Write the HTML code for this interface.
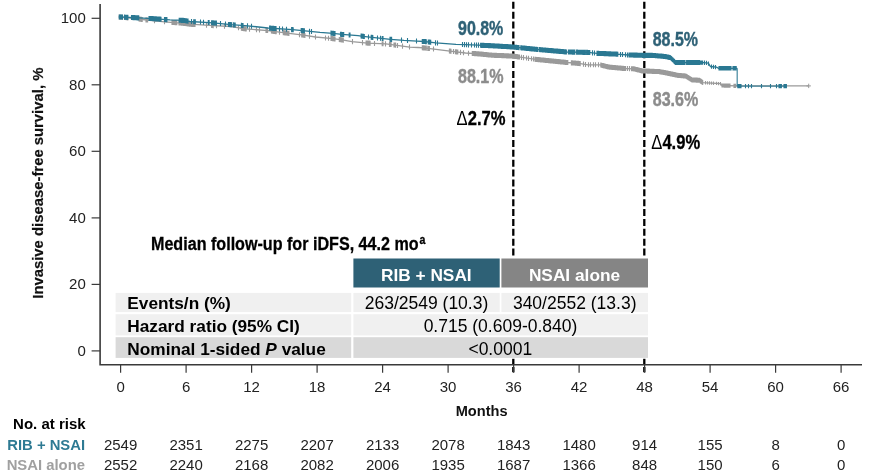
<!DOCTYPE html>
<html lang="en"><head><meta charset="utf-8"><title>Invasive disease-free survival</title>
<style>
html,body{margin:0;padding:0;background:#fff;}
body{width:872px;height:474px;overflow:hidden;font-family:"Liberation Sans",sans-serif;}
svg{display:block;}
</style></head><body>
<svg width="872" height="474" viewBox="0 0 872 474" font-family="'Liberation Sans', sans-serif">
<rect width="872" height="474" fill="#fff"/>
<line x1="513.3" y1="1.8" x2="513.3" y2="372.3" stroke="#000" stroke-width="2.3" stroke-dasharray="7 2.87"/>
<line x1="644.3" y1="1.8" x2="644.3" y2="372.3" stroke="#000" stroke-width="2.3" stroke-dasharray="7 2.87"/>
<path d="M118.8,17.0 L130.0,18.0 L142.5,19.5 L164.5,21.8 L183.8,23.3 L190.0,24.2 L213.0,25.6 L231.0,26.5 L245.0,28.8 L268.0,30.6 L285.0,32.9 L303.5,35.2 L315.5,37.0 L333.0,38.7 L342.0,39.9 L352.0,41.6 L367.5,43.1 L386.0,43.9 L402.4,46.1 L409.7,47.1 L418.0,47.5 L424.0,47.9 L436.0,49.3 L450.0,51.1 L465.5,53.0 L479.0,53.9 L492.0,55.2 L513.0,56.1 L536.0,59.4 L567.0,62.5 L578.8,63.4 L588.0,64.8 L600.0,64.8 L609.0,67.1 L624.6,68.5 L633.8,68.8 L642.0,70.9 L659.0,71.6 L665.3,72.7 L678.0,75.4 L685.6,76.0 L691.9,79.9 L699.5,80.3 L703.0,82.6 L720.6,83.7 L722.0,85.5 L737.0,85.9 L808.7,85.9" fill="none" stroke="#9a9a9a" stroke-width="1.35"/>
<path d="M119.3,14.5v5.1M120.1,14.6v5.1M120.9,14.6v5.1M121.7,14.7v5.1M122.5,14.8v5.1M124.6,15.0v5.1M125.4,15.0v5.1M126.2,15.1v5.1M127.0,15.2v5.1M127.8,15.3v5.1M139.0,16.5v5.1M139.8,16.6v5.1M140.6,16.7v5.1M141.4,16.8v5.1M142.2,16.9v5.1M146.0,17.3v5.1M146.8,17.4v5.1M147.6,17.5v5.1M154.5,18.2v5.1M164.5,19.2v5.1M172.0,19.8v5.1M172.8,19.9v5.1M173.6,20.0v5.1M174.4,20.0v5.1M175.2,20.1v5.1M176.0,20.1v5.1M176.8,20.2v5.1M179.0,20.4v5.1M179.8,20.4v5.1M180.6,20.5v5.1M181.4,20.6v5.1M182.2,20.6v5.1M183.0,20.7v5.1M183.8,20.8v5.1M184.6,20.9v5.1M185.4,21.0v5.1M186.2,21.1v5.1M187.0,21.2v5.1M187.8,21.3v5.1M188.6,21.4v5.1M189.4,21.6v5.1M190.2,21.7v5.1M191.0,21.7v5.1M191.8,21.8v5.1M192.6,21.8v5.1M193.4,21.9v5.1M194.2,21.9v5.1M195.0,22.0v5.1M192.5,21.8v5.1M206.5,22.7v5.1M211.6,23.0v5.1M212.4,23.0v5.1M213.2,23.1v5.1M216.5,23.2v5.1M224.5,23.6v5.1M238.5,25.2v5.1M241.4,25.7v5.1M242.2,25.8v5.1M243.0,25.9v5.1M243.8,26.1v5.1M244.6,26.2v5.1M245.4,26.3v5.1M246.2,26.3v5.1M249.5,26.6v5.1M256.5,27.2v5.1M259.5,27.4v5.1M267.5,28.0v5.1M266.0,27.9v5.1M266.8,28.0v5.1M267.6,28.0v5.1M271.4,28.5v5.1M272.2,28.6v5.1M273.0,28.7v5.1M273.8,28.8v5.1M274.6,28.9v5.1M275.4,29.1v5.1M276.2,29.2v5.1M279.5,29.6v5.1M283.3,30.1v5.1M284.1,30.2v5.1M284.9,30.3v5.1M285.7,30.4v5.1M286.5,30.5v5.1M287.3,30.6v5.1M288.1,30.7v5.1M288.9,30.8v5.1M299.5,32.2v5.1M301.7,32.4v5.1M302.5,32.5v5.1M303.3,32.6v5.1M304.1,32.7v5.1M304.9,32.9v5.1M309.5,33.6v5.1M315.5,34.5v5.1M325.5,35.4v5.1M328.5,35.7v5.1M331.0,36.0v5.1M331.8,36.0v5.1M332.6,36.1v5.1M333.4,36.2v5.1M334.2,36.3v5.1M335.0,36.4v5.1M339.3,37.0v5.1M340.1,37.1v5.1M340.9,37.2v5.1M341.7,37.3v5.1M342.5,37.4v5.1M343.3,37.6v5.1M352.5,39.1v5.1M362.5,40.1v5.1M366.1,40.4v5.1M366.9,40.5v5.1M367.7,40.6v5.1M368.5,40.6v5.1M369.3,40.6v5.1M370.1,40.7v5.1M374.5,40.9v5.1M382.2,41.2v5.1M383.0,41.2v5.1M385.5,41.3v5.1M389.5,41.8v5.1M390.3,41.9v5.1M391.1,42.0v5.1M394.0,42.4v5.1M394.8,42.5v5.1M395.6,42.6v5.1M397.5,42.9v5.1M402.5,43.6v5.1M409.5,44.5v5.1M422.3,45.2v5.1M423.1,45.3v5.1M423.9,45.3v5.1M424.7,45.4v5.1M425.5,45.5v5.1M426.3,45.6v5.1M427.8,45.8v5.1M428.6,45.9v5.1M429.4,46.0v5.1M433.5,46.5v5.1M449.4,48.5v5.1M450.2,48.6v5.1M451.0,48.7v5.1M453.5,49.0v5.1M455.4,49.2v5.1M456.2,49.3v5.1M457.0,49.4v5.1M457.8,49.5v5.1M460.5,49.8v5.1M463.5,50.2v5.1M468.5,50.7v5.1M472.3,50.9v5.1M473.1,51.0v5.1M473.9,51.0v5.1M474.7,51.1v5.1M475.5,51.1v5.1M476.3,51.2v5.1M477.1,51.2v5.1M477.9,51.3v5.1M478.7,51.3v5.1M479.5,51.4v5.1M480.3,51.5v5.1M481.1,51.6v5.1M481.9,51.6v5.1M482.7,51.7v5.1M483.5,51.8v5.1M484.3,51.9v5.1M485.1,52.0v5.1M485.9,52.0v5.1M486.7,52.1v5.1M487.5,52.2v5.1M488.3,52.3v5.1M489.1,52.4v5.1M489.9,52.4v5.1M490.7,52.5v5.1M491.5,52.6v5.1M492.3,52.7v5.1M493.1,52.7v5.1M493.9,52.7v5.1M494.7,52.8v5.1M495.5,52.8v5.1M496.3,52.8v5.1M497.1,52.9v5.1M497.9,52.9v5.1M498.7,52.9v5.1M499.5,53.0v5.1M500.3,53.0v5.1M501.1,53.0v5.1M501.9,53.1v5.1M502.7,53.1v5.1M503.5,53.1v5.1M504.3,53.2v5.1M505.1,53.2v5.1M505.9,53.2v5.1M506.7,53.3v5.1M507.5,53.3v5.1M508.3,53.3v5.1M509.1,53.4v5.1M509.9,53.4v5.1M510.7,53.5v5.1M511.5,53.5v5.1M512.3,53.5v5.1M513.1,53.6v5.1M513.9,53.7v5.1M514.7,53.8v5.1M515.5,53.9v5.1M516.3,54.0v5.1M517.1,54.1v5.1M517.9,54.3v5.1M518.7,54.4v5.1M519.5,54.5v5.1M521.5,54.8v5.1M523.5,55.1v5.1M526.5,55.5v5.1M528.5,55.8v5.1M531.5,56.2v5.1M533.5,56.5v5.1M535.0,56.7v5.1M535.8,56.8v5.1M536.6,56.9v5.1M537.4,57.0v5.1M538.2,57.1v5.1M539.0,57.1v5.1M539.8,57.2v5.1M540.6,57.3v5.1M541.4,57.4v5.1M542.2,57.5v5.1M543.0,57.5v5.1M543.8,57.6v5.1M544.6,57.7v5.1M545.4,57.8v5.1M546.2,57.9v5.1M547.0,57.9v5.1M547.8,58.0v5.1M548.6,58.1v5.1M549.4,58.2v5.1M550.2,58.3v5.1M551.0,58.3v5.1M551.8,58.4v5.1M552.6,58.5v5.1M553.4,58.6v5.1M554.2,58.7v5.1M555.0,58.7v5.1M555.8,58.8v5.1M556.6,58.9v5.1M557.4,59.0v5.1M558.2,59.1v5.1M559.0,59.1v5.1M559.8,59.2v5.1M560.6,59.3v5.1M561.4,59.4v5.1M562.2,59.5v5.1M563.0,59.5v5.1M563.8,59.6v5.1M564.6,59.7v5.1M565.4,59.8v5.1M566.2,59.9v5.1M567.0,59.9v5.1M567.8,60.0v5.1M571.4,60.3v5.1M572.2,60.3v5.1M573.0,60.4v5.1M573.8,60.5v5.1M574.6,60.5v5.1M575.4,60.6v5.1M576.2,60.7v5.1M577.0,60.7v5.1M577.8,60.8v5.1M578.6,60.8v5.1M579.4,60.9v5.1M580.2,61.1v5.1M583.5,61.6v5.1M585.5,61.9v5.1M588.5,62.2v5.1M590.5,62.2v5.1M593.5,62.2v5.1M595.5,62.2v5.1M598.5,62.2v5.1M600.8,62.5v5.1M601.6,62.7v5.1M602.4,62.9v5.1M603.2,63.1v5.1M604.0,63.3v5.1M604.8,63.5v5.1M605.6,63.7v5.1M606.4,63.9v5.1M607.2,64.1v5.1M608.0,64.3v5.1M608.8,64.5v5.1M609.6,64.6v5.1M610.4,64.7v5.1M611.2,64.7v5.1M612.0,64.8v5.1M612.8,64.9v5.1M613.6,65.0v5.1M614.4,65.0v5.1M615.2,65.1v5.1M616.0,65.2v5.1M616.8,65.2v5.1M617.6,65.3v5.1M618.4,65.4v5.1M619.2,65.5v5.1M620.0,65.5v5.1M620.8,65.6v5.1M621.6,65.7v5.1M622.4,65.8v5.1M623.2,65.8v5.1M624.0,65.9v5.1M624.8,66.0v5.1M625.6,66.0v5.1M627.5,66.0v5.1M629.5,66.1v5.1M631.5,66.2v5.1M632.3,66.2v5.1M633.1,66.2v5.1M633.9,66.3v5.1M634.7,66.5v5.1M635.5,66.7v5.1M636.3,66.9v5.1M637.1,67.1v5.1M637.9,67.3v5.1M638.7,67.5v5.1M639.5,67.7v5.1M640.3,67.9v5.1M641.1,68.1v5.1M641.9,68.3v5.1M642.7,68.4v5.1M643.5,68.4v5.1M644.3,68.4v5.1M645.1,68.5v5.1M645.9,68.5v5.1M646.7,68.5v5.1M647.5,68.6v5.1M648.3,68.6v5.1M649.1,68.6v5.1M649.9,68.7v5.1M650.7,68.7v5.1M651.5,68.7v5.1M652.3,68.8v5.1M653.1,68.8v5.1M653.9,68.8v5.1M654.7,68.9v5.1M655.5,68.9v5.1M656.3,68.9v5.1M657.1,69.0v5.1M657.9,69.0v5.1M658.7,69.0v5.1M659.5,69.1v5.1M660.3,69.3v5.1M661.1,69.4v5.1M661.9,69.6v5.1M662.7,69.7v5.1M663.5,69.8v5.1M664.3,70.0v5.1M665.1,70.1v5.1M665.9,70.3v5.1M666.7,70.4v5.1M667.5,70.6v5.1M668.3,70.8v5.1M669.1,71.0v5.1M669.9,71.1v5.1M670.7,71.3v5.1M671.5,71.5v5.1M672.3,71.6v5.1M673.1,71.8v5.1M673.9,72.0v5.1M674.7,72.1v5.1M675.5,72.3v5.1M676.3,72.5v5.1M677.1,72.7v5.1M677.9,72.8v5.1M678.7,72.9v5.1M679.5,73.0v5.1M680.3,73.0v5.1M681.1,73.1v5.1M681.9,73.2v5.1M682.7,73.2v5.1M683.5,73.3v5.1M684.3,73.3v5.1M685.1,73.4v5.1M685.9,73.6v5.1M686.7,74.1v5.1M687.5,74.6v5.1M688.3,75.1v5.1M689.1,75.6v5.1M689.9,76.1v5.1M690.7,76.6v5.1M691.5,77.1v5.1M692.3,77.4v5.1M693.1,77.4v5.1M693.9,77.5v5.1M694.7,77.5v5.1M695.5,77.5v5.1M696.3,77.6v5.1M697.1,77.6v5.1M697.9,77.7v5.1M698.7,77.7v5.1M699.5,77.7v5.1M700.3,78.3v5.1M701.1,78.8v5.1M701.9,79.3v5.1M702.7,79.9v5.1M705.5,81.1v3.4M707.5,81.2v3.4M709.5,81.3v3.4M711.5,81.4v3.4M713.5,81.6v3.4M716.5,81.7v3.4M718.5,81.9v3.4M720.5,82.0v3.4M722.0,83.4v4.2M722.8,83.4v4.2M723.6,83.4v4.2M724.4,83.5v4.2M725.2,83.5v4.2M726.0,83.5v4.2M726.8,83.5v4.2M727.6,83.5v4.2M728.4,83.6v4.2M729.2,83.6v4.2M730.0,83.6v4.2M734.0,83.7v4.2M734.8,83.7v4.2M735.6,83.8v4.2" fill="none" stroke="#9a9a9a" stroke-width="1.1"/>
<path d="M808.7,83.7v4.4M806.5,85.9h4.4" fill="none" stroke="#9a9a9a" stroke-width="1"/>
<path d="M118.8,16.9 L135.0,17.7 L151.7,18.6 L170.0,19.9 L183.8,20.4 L190.0,21.5 L213.0,22.8 L231.0,24.7 L245.0,25.6 L268.0,28.0 L292.5,29.7 L302.6,30.6 L320.0,32.4 L333.0,33.3 L342.0,34.4 L358.0,35.6 L363.0,36.3 L376.7,37.9 L390.5,39.3 L404.0,40.4 L417.0,41.1 L424.0,41.5 L436.0,42.9 L456.0,44.3 L465.5,44.7 L484.0,45.4 L493.0,45.8 L513.0,47.0 L536.0,49.3 L567.0,52.0 L588.0,52.4 L597.0,53.3 L615.5,54.1 L629.0,55.0 L642.0,55.3 L652.7,55.4 L665.3,56.5 L670.5,57.7 L675.5,62.5 L703.3,62.6 L708.3,63.2 L710.5,66.5 L716.5,67.2 L718.6,68.3 L737.2,68.3" fill="none" stroke="#2a7892" stroke-width="1.35"/>
<path d="M737.2,68.3 L737.2,86.1 L786.6,86.1" fill="none" stroke="#2a7892" stroke-width="1.25" stroke-opacity="0.85"/>
<path d="M119.3,14.4v5.1M120.1,14.4v5.1M120.9,14.5v5.1M121.7,14.5v5.1M122.5,14.5v5.1M124.6,14.6v5.1M125.4,14.7v5.1M126.2,14.7v5.1M127.0,14.8v5.1M127.8,14.8v5.1M131.5,15.0v5.1M132.3,15.0v5.1M133.1,15.1v5.1M133.9,15.1v5.1M134.7,15.1v5.1M135.5,15.2v5.1M136.3,15.2v5.1M137.1,15.3v5.1M137.9,15.3v5.1M138.7,15.3v5.1M149.0,15.9v5.1M149.8,15.9v5.1M150.6,15.9v5.1M151.4,16.0v5.1M152.2,16.0v5.1M153.0,16.1v5.1M153.8,16.2v5.1M154.6,16.2v5.1M155.4,16.3v5.1M156.2,16.3v5.1M157.0,16.4v5.1M157.8,16.5v5.1M158.6,16.5v5.1M159.4,16.6v5.1M160.2,16.6v5.1M161.0,16.7v5.1M164.5,16.9v5.1M165.3,17.0v5.1M166.1,17.1v5.1M166.9,17.1v5.1M179.2,17.7v5.1M180.0,17.7v5.1M180.8,17.7v5.1M181.6,17.8v5.1M182.4,17.8v5.1M183.2,17.8v5.1M184.0,17.9v5.1M184.8,18.0v5.1M185.6,18.2v5.1M186.4,18.3v5.1M187.2,18.5v5.1M188.0,18.6v5.1M191.5,19.0v5.1M193.7,19.2v5.1M194.5,19.2v5.1M195.3,19.2v5.1M200.5,19.5v5.1M203.5,19.7v5.1M208.3,20.0v5.1M209.1,20.0v5.1M211.6,20.2v5.1M212.4,20.2v5.1M213.2,20.3v5.1M214.0,20.4v5.1M214.8,20.4v5.1M215.6,20.5v5.1M216.4,20.6v5.1M220.5,21.0v5.1M225.5,21.6v5.1M228.5,21.9v5.1M229.3,22.0v5.1M230.1,22.1v5.1M230.9,22.1v5.1M231.7,22.2v5.1M233.6,22.3v5.1M234.4,22.4v5.1M235.2,22.4v5.1M241.4,22.8v5.1M242.2,22.9v5.1M243.0,22.9v5.1M247.5,23.3v5.1M251.5,23.7v5.1M269.6,25.6v5.1M270.4,25.6v5.1M271.2,25.7v5.1M272.0,25.7v5.1M272.8,25.8v5.1M273.6,25.8v5.1M274.4,25.9v5.1M275.2,25.9v5.1M276.0,26.0v5.1M279.5,26.2v5.1M282.5,26.5v5.1M286.5,26.7v5.1M291.6,27.1v5.1M292.4,27.1v5.1M293.2,27.2v5.1M301.2,27.9v5.1M302.0,28.0v5.1M302.8,28.1v5.1M303.6,28.2v5.1M304.4,28.2v5.1M309.5,28.8v5.1M311.5,29.0v5.1M331.0,30.6v5.1M331.8,30.7v5.1M332.6,30.7v5.1M333.4,30.8v5.1M334.2,30.9v5.1M335.0,31.0v5.1M340.5,31.7v5.1M341.3,31.8v5.1M342.1,31.9v5.1M342.9,31.9v5.1M343.7,32.0v5.1M349.2,32.4v5.1M350.0,32.5v5.1M361.1,33.5v5.1M361.9,33.6v5.1M362.7,33.7v5.1M363.5,33.8v5.1M364.3,33.9v5.1M368.5,34.4v5.1M371.2,34.7v5.1M372.0,34.8v5.1M372.8,34.9v5.1M377.5,35.4v5.1M380.5,35.7v5.1M382.2,35.9v5.1M383.0,36.0v5.1M390.0,36.7v5.1M390.8,36.8v5.1M391.6,36.8v5.1M401.5,37.6v5.1M407.5,38.0v5.1M416.5,38.5v5.1M422.3,38.9v5.1M423.1,38.9v5.1M423.9,38.9v5.1M424.7,39.0v5.1M425.5,39.1v5.1M426.3,39.2v5.1M428.3,39.5v5.1M429.1,39.5v5.1M429.9,39.6v5.1M430.7,39.7v5.1M435.5,40.3v5.1M437.5,40.5v5.1M462.5,42.0v5.1M464.5,42.1v5.1M466.5,42.2v5.1M468.5,42.3v5.1M471.5,42.4v5.1M474.5,42.5v5.1M476.5,42.6v5.1M478.5,42.6v5.1M480.6,42.7v5.1M481.4,42.8v5.1M482.2,42.8v5.1M483.0,42.8v5.1M483.8,42.8v5.1M484.6,42.9v5.1M485.4,42.9v5.1M486.2,42.9v5.1M487.0,43.0v5.1M487.8,43.0v5.1M488.6,43.1v5.1M489.4,43.1v5.1M490.2,43.1v5.1M491.0,43.2v5.1M491.8,43.2v5.1M492.6,43.2v5.1M493.4,43.3v5.1M494.2,43.3v5.1M495.0,43.4v5.1M495.8,43.4v5.1M496.6,43.5v5.1M497.4,43.5v5.1M498.2,43.6v5.1M499.0,43.6v5.1M499.8,43.7v5.1M500.6,43.7v5.1M501.4,43.8v5.1M502.2,43.8v5.1M503.0,43.9v5.1M503.8,43.9v5.1M504.6,43.9v5.1M505.4,44.0v5.1M506.2,44.0v5.1M507.0,44.1v5.1M507.8,44.1v5.1M508.6,44.2v5.1M509.4,44.2v5.1M510.2,44.3v5.1M511.0,44.3v5.1M511.8,44.4v5.1M512.6,44.4v5.1M513.4,44.5v5.1M514.2,44.6v5.1M515.0,44.7v5.1M515.8,44.7v5.1M516.6,44.8v5.1M517.4,44.9v5.1M518.2,45.0v5.1M519.0,45.1v5.1M520.8,45.2v5.1M521.6,45.3v5.1M522.4,45.4v5.1M523.2,45.5v5.1M524.0,45.5v5.1M524.8,45.6v5.1M525.6,45.7v5.1M526.4,45.8v5.1M527.2,45.9v5.1M528.0,45.9v5.1M528.8,46.0v5.1M529.6,46.1v5.1M530.4,46.2v5.1M531.2,46.3v5.1M532.0,46.3v5.1M532.8,46.4v5.1M533.6,46.5v5.1M534.4,46.6v5.1M535.2,46.7v5.1M536.0,46.7v5.1M536.8,46.8v5.1M537.6,46.9v5.1M539.2,47.0v5.1M540.0,47.1v5.1M540.8,47.2v5.1M541.6,47.2v5.1M542.4,47.3v5.1M543.2,47.4v5.1M544.0,47.4v5.1M544.8,47.5v5.1M545.6,47.6v5.1M546.4,47.7v5.1M547.2,47.7v5.1M548.0,47.8v5.1M548.8,47.9v5.1M549.6,47.9v5.1M550.4,48.0v5.1M551.2,48.1v5.1M552.0,48.1v5.1M552.8,48.2v5.1M553.6,48.3v5.1M554.4,48.4v5.1M555.2,48.4v5.1M556.0,48.5v5.1M556.8,48.6v5.1M557.6,48.6v5.1M558.4,48.7v5.1M559.2,48.8v5.1M560.0,48.8v5.1M560.8,48.9v5.1M561.6,49.0v5.1M562.4,49.0v5.1M563.2,49.1v5.1M564.0,49.2v5.1M564.8,49.3v5.1M565.6,49.3v5.1M566.4,49.4v5.1M568.4,49.5v5.1M569.2,49.5v5.1M570.0,49.5v5.1M570.8,49.5v5.1M571.6,49.5v5.1M572.4,49.6v5.1M573.2,49.6v5.1M574.0,49.6v5.1M574.8,49.6v5.1M576.6,49.6v5.1M577.4,49.6v5.1M578.2,49.7v5.1M579.0,49.7v5.1M579.8,49.7v5.1M580.6,49.7v5.1M581.4,49.7v5.1M582.2,49.7v5.1M583.0,49.8v5.1M583.8,49.8v5.1M584.6,49.8v5.1M585.4,49.8v5.1M586.6,49.8v5.1M587.4,49.8v5.1M588.2,49.9v5.1M589.0,49.9v5.1M589.8,50.0v5.1M592.5,50.3v5.1M594.5,50.5v5.1M597.0,50.8v5.1M597.8,50.8v5.1M598.6,50.8v5.1M599.4,50.9v5.1M600.2,50.9v5.1M601.0,50.9v5.1M601.8,51.0v5.1M602.6,51.0v5.1M603.4,51.0v5.1M604.2,51.1v5.1M605.0,51.1v5.1M605.8,51.1v5.1M606.6,51.2v5.1M607.4,51.2v5.1M608.2,51.2v5.1M609.0,51.3v5.1M609.8,51.3v5.1M610.6,51.3v5.1M611.4,51.4v5.1M612.2,51.4v5.1M613.0,51.4v5.1M613.8,51.5v5.1M614.6,51.5v5.1M615.4,51.5v5.1M616.2,51.6v5.1M617.0,51.6v5.1M617.8,51.7v5.1M620.5,51.9v5.1M622.5,52.0v5.1M625.5,52.2v5.1M627.5,52.4v5.1M629.0,52.5v5.1M629.8,52.5v5.1M630.6,52.5v5.1M631.4,52.5v5.1M632.2,52.5v5.1M633.0,52.5v5.1M633.8,52.6v5.1M634.6,52.6v5.1M635.4,52.6v5.1M636.2,52.6v5.1M637.0,52.6v5.1M637.8,52.7v5.1M638.6,52.7v5.1M639.4,52.7v5.1M640.2,52.7v5.1M641.0,52.7v5.1M641.8,52.7v5.1M642.6,52.8v5.1M643.4,52.8v5.1M644.2,52.8v5.1M645.0,52.8v5.1M645.8,52.8v5.1M646.6,52.8v5.1M647.4,52.8v5.1M648.2,52.8v5.1M649.0,52.8v5.1M649.8,52.8v5.1M650.6,52.8v5.1M651.4,52.8v5.1M652.2,52.8v5.1M653.0,52.9v5.1M653.8,52.9v5.1M654.6,53.0v5.1M655.4,53.1v5.1M656.2,53.2v5.1M657.0,53.2v5.1M657.8,53.3v5.1M658.6,53.4v5.1M659.4,53.4v5.1M660.2,53.5v5.1M661.0,53.6v5.1M661.8,53.6v5.1M662.6,53.7v5.1M663.4,53.8v5.1M664.2,53.9v5.1M665.0,53.9v5.1M665.8,54.1v5.1M666.6,54.2v5.1M667.4,54.4v5.1M668.2,54.6v5.1M669.0,54.8v5.1M669.8,55.0v5.1M670.6,55.2v5.1M671.4,56.0v5.1M672.2,56.8v5.1M673.0,57.5v5.1M673.8,58.3v5.1M674.6,59.1v5.1M675.4,59.9v5.1M676.2,60.0v5.1M677.0,60.0v5.1M677.8,60.0v5.1M678.6,60.0v5.1M679.4,60.0v5.1M680.2,60.0v5.1M681.0,60.0v5.1M681.8,60.0v5.1M682.6,60.0v5.1M683.4,60.0v5.1M684.2,60.0v5.1M685.0,60.0v5.1M686.6,60.0v5.1M687.4,60.0v5.1M688.2,60.0v5.1M689.0,60.0v5.1M689.8,60.0v5.1M690.6,60.0v5.1M691.4,60.0v5.1M692.2,60.0v5.1M693.0,60.0v5.1M693.8,60.0v5.1M694.6,60.0v5.1M695.4,60.0v5.1M696.2,60.0v5.1M697.0,60.0v5.1M697.8,60.0v5.1M698.6,60.0v5.1M699.4,60.0v5.1M700.2,60.4v4.3M701.0,60.4v4.3M701.8,60.4v4.3M702.6,60.4v4.3M704.5,60.6v4.3M706.5,60.8v4.3M708.5,61.4v4.3M711.5,64.5v4.3M713.5,64.7v4.3M715.5,64.9v4.3M719.0,66.1v4.3M719.8,66.1v4.3M720.6,66.1v4.3M721.4,66.1v4.3M722.2,66.1v4.3M723.0,66.1v4.3M723.8,66.1v4.3M724.6,66.1v4.3M725.4,66.1v4.3M726.2,66.1v4.3M727.0,66.1v4.3M727.8,66.1v4.3M728.6,66.1v4.3M729.4,66.1v4.3M730.2,66.1v4.3M731.0,66.1v4.3M733.0,66.1v4.3M733.8,66.1v4.3M734.6,66.1v4.3M735.4,66.1v4.3M736.2,66.1v4.3M737.8,83.9v4.3M738.6,83.9v4.3M739.4,83.9v4.3M740.2,83.9v4.3M741.0,83.9v4.3M745.5,83.9v4.3M748.5,83.9v4.3M751.5,83.9v4.3M761.5,83.9v4.3M770.5,83.9v4.3M776.5,83.9v4.3M779.0,83.9v4.3M779.8,83.9v4.3M780.6,83.9v4.3M781.4,83.9v4.3M784.0,83.9v4.3M784.8,83.9v4.3M785.6,83.9v4.3M786.4,83.9v4.3" fill="none" stroke="#2a7892" stroke-width="1.1"/>
<rect x="115.6" y="256.5" width="534" height="102.3" fill="#fff"/>
<rect x="353.4" y="258.5" width="146.3" height="29" fill="#2e6176"/>
<rect x="501.4" y="258.5" width="146.6" height="29" fill="#858585"/>
<rect x="115.6" y="292.9" width="235.6" height="19.2" fill="#f0f0f0"/>
<rect x="353.4" y="292.9" width="146.3" height="19.2" fill="#f0f0f0"/>
<rect x="501.4" y="292.9" width="146.6" height="19.2" fill="#f0f0f0"/>
<rect x="115.6" y="314.2" width="235.6" height="21.2" fill="#f0f0f0"/>
<rect x="353.4" y="314.2" width="294.6" height="21.2" fill="#f0f0f0"/>
<rect x="115.6" y="337.2" width="235.6" height="20.7" fill="#d9d9d9"/>
<rect x="353.4" y="337.2" width="294.6" height="20.7" fill="#d9d9d9"/>
<text x="426.3" y="280.9" font-size="17.3" font-weight="bold" text-anchor="middle" fill="#fff">RIB + NSAI</text>
<text x="574.5" y="280.9" font-size="17.3" font-weight="bold" text-anchor="middle" fill="#fff">NSAI alone</text>
<text x="127.3" y="309.1" font-size="17.25" font-weight="bold" fill="#000">Events/n (%)</text>
<text x="127.3" y="332.1" font-size="17.25" font-weight="bold" fill="#000">Hazard ratio (95% CI)</text>
<text x="127.3" y="354.7" font-size="17.25" font-weight="bold" fill="#000">Nominal 1-sided <tspan font-style="italic">P</tspan> value</text>
<text x="426.5" y="309.1" font-size="17.5" text-anchor="middle" fill="#000">263/2549 (10.3)</text>
<text x="574.7" y="309.1" font-size="17.5" text-anchor="middle" fill="#000">340/2552 (13.3)</text>
<text x="500.5" y="332.1" font-size="17.5" text-anchor="middle" fill="#000">0.715 (0.609-0.840)</text>
<text x="500.3" y="354.7" font-size="17.5" text-anchor="middle" fill="#000">&lt;0.0001</text>
<text transform="translate(151,249.6) scale(0.848,1)" font-size="19" font-weight="bold" fill="#000" stroke="#000" stroke-width="0.3">Median follow-up for iDFS, 44.2 mo<tspan font-size="12.5" dy="-5.5" dx="1">a</tspan></text>
<path d="M100.1,4V364.8H862" fill="none" stroke="#3a3a3a" stroke-width="1.6"/>
<line x1="91.6" x2="100" y1="350.9" y2="350.9" stroke="#3a3a3a" stroke-width="1.2"/>
<text x="85.8" y="355.7" font-size="15" text-anchor="end" fill="#222">0</text>
<line x1="91.6" x2="100" y1="284.4" y2="284.4" stroke="#3a3a3a" stroke-width="1.2"/>
<text x="85.8" y="289.2" font-size="15" text-anchor="end" fill="#222">20</text>
<line x1="91.6" x2="100" y1="217.9" y2="217.9" stroke="#3a3a3a" stroke-width="1.2"/>
<text x="85.8" y="222.7" font-size="15" text-anchor="end" fill="#222">40</text>
<line x1="91.6" x2="100" y1="151.3" y2="151.3" stroke="#3a3a3a" stroke-width="1.2"/>
<text x="85.8" y="156.1" font-size="15" text-anchor="end" fill="#222">60</text>
<line x1="91.6" x2="100" y1="84.8" y2="84.8" stroke="#3a3a3a" stroke-width="1.2"/>
<text x="85.8" y="89.6" font-size="15" text-anchor="end" fill="#222">80</text>
<line x1="91.6" x2="100" y1="18.3" y2="18.3" stroke="#3a3a3a" stroke-width="1.2"/>
<text x="85.8" y="23.1" font-size="15" text-anchor="end" fill="#222">100</text>
<line x1="120.6" x2="120.6" y1="365" y2="372.8" stroke="#3a3a3a" stroke-width="1.2"/>
<text x="120.6" y="391.8" font-size="15" text-anchor="middle" fill="#222">0</text>
<line x1="186.1" x2="186.1" y1="365" y2="372.8" stroke="#3a3a3a" stroke-width="1.2"/>
<text x="186.1" y="391.8" font-size="15" text-anchor="middle" fill="#222">6</text>
<line x1="251.6" x2="251.6" y1="365" y2="372.8" stroke="#3a3a3a" stroke-width="1.2"/>
<text x="251.6" y="391.8" font-size="15" text-anchor="middle" fill="#222">12</text>
<line x1="317.1" x2="317.1" y1="365" y2="372.8" stroke="#3a3a3a" stroke-width="1.2"/>
<text x="317.1" y="391.8" font-size="15" text-anchor="middle" fill="#222">18</text>
<line x1="382.6" x2="382.6" y1="365" y2="372.8" stroke="#3a3a3a" stroke-width="1.2"/>
<text x="382.6" y="391.8" font-size="15" text-anchor="middle" fill="#222">24</text>
<line x1="448.1" x2="448.1" y1="365" y2="372.8" stroke="#3a3a3a" stroke-width="1.2"/>
<text x="448.1" y="391.8" font-size="15" text-anchor="middle" fill="#222">30</text>
<line x1="513.6" x2="513.6" y1="365" y2="372.8" stroke="#3a3a3a" stroke-width="1.2"/>
<text x="513.6" y="391.8" font-size="15" text-anchor="middle" fill="#222">36</text>
<line x1="579.1" x2="579.1" y1="365" y2="372.8" stroke="#3a3a3a" stroke-width="1.2"/>
<text x="579.1" y="391.8" font-size="15" text-anchor="middle" fill="#222">42</text>
<line x1="644.6" x2="644.6" y1="365" y2="372.8" stroke="#3a3a3a" stroke-width="1.2"/>
<text x="644.6" y="391.8" font-size="15" text-anchor="middle" fill="#222">48</text>
<line x1="710.1" x2="710.1" y1="365" y2="372.8" stroke="#3a3a3a" stroke-width="1.2"/>
<text x="710.1" y="391.8" font-size="15" text-anchor="middle" fill="#222">54</text>
<line x1="775.6" x2="775.6" y1="365" y2="372.8" stroke="#3a3a3a" stroke-width="1.2"/>
<text x="775.6" y="391.8" font-size="15" text-anchor="middle" fill="#222">60</text>
<line x1="841.1" x2="841.1" y1="365" y2="372.8" stroke="#3a3a3a" stroke-width="1.2"/>
<text x="841.1" y="391.8" font-size="15" text-anchor="middle" fill="#222">66</text>
<text x="481.6" y="416.1" font-size="14.6" font-weight="bold" text-anchor="middle" fill="#111">Months</text>
<text transform="translate(43.2,183.2) rotate(-90)" font-size="14.85" font-weight="bold" text-anchor="middle" fill="#111" stroke="#111" stroke-width="0.2">Invasive disease-free survival, %</text>
<text transform="translate(458.0,34.8) scale(0.8279,1)" font-size="19.3" font-weight="bold" fill="#2e6176" stroke="#2e6176" stroke-width="0.4" stroke-linejoin="round">90.8%</text>
<text transform="translate(458.0,83.1) scale(0.8333,1)" font-size="19.3" font-weight="bold" fill="#8c8c8c" stroke="#8c8c8c" stroke-width="0.4" stroke-linejoin="round">88.1%</text>
<text transform="translate(652.7,45.7) scale(0.8279,1)" font-size="19.3" font-weight="bold" fill="#2e6176" stroke="#2e6176" stroke-width="0.4" stroke-linejoin="round">88.5%</text>
<text transform="translate(652.7,106.3) scale(0.8333,1)" font-size="19.3" font-weight="bold" fill="#8c8c8c" stroke="#8c8c8c" stroke-width="0.4" stroke-linejoin="round">83.6%</text>
<text transform="translate(456.6,125.1) scale(0.86,1)" font-size="19.3" fill="#000">Δ<tspan font-weight="bold" stroke="#000" stroke-width="0.3">2.7%</tspan></text>
<text transform="translate(651.3,149.2) scale(0.86,1)" font-size="19.3" fill="#000">Δ<tspan font-weight="bold" stroke="#000" stroke-width="0.3">4.9%</tspan></text>
<text x="85.6" y="429.1" font-size="15" font-weight="bold" text-anchor="end" fill="#000">No. at risk</text>
<text x="85" y="450.3" font-size="14.8" font-weight="bold" text-anchor="end" fill="#2e7a93">RIB + NSAI</text>
<text x="85" y="470" font-size="14.85" font-weight="bold" text-anchor="end" fill="#a0a0a0">NSAI alone</text>
<text x="120.6" y="450.3" font-size="15" text-anchor="middle" fill="#222">2549</text>
<text x="120.6" y="470" font-size="15" text-anchor="middle" fill="#222">2552</text>
<text x="186.1" y="450.3" font-size="15" text-anchor="middle" fill="#222">2351</text>
<text x="186.1" y="470" font-size="15" text-anchor="middle" fill="#222">2240</text>
<text x="251.6" y="450.3" font-size="15" text-anchor="middle" fill="#222">2275</text>
<text x="251.6" y="470" font-size="15" text-anchor="middle" fill="#222">2168</text>
<text x="317.1" y="450.3" font-size="15" text-anchor="middle" fill="#222">2207</text>
<text x="317.1" y="470" font-size="15" text-anchor="middle" fill="#222">2082</text>
<text x="382.6" y="450.3" font-size="15" text-anchor="middle" fill="#222">2133</text>
<text x="382.6" y="470" font-size="15" text-anchor="middle" fill="#222">2006</text>
<text x="448.1" y="450.3" font-size="15" text-anchor="middle" fill="#222">2078</text>
<text x="448.1" y="470" font-size="15" text-anchor="middle" fill="#222">1935</text>
<text x="513.6" y="450.3" font-size="15" text-anchor="middle" fill="#222">1843</text>
<text x="513.6" y="470" font-size="15" text-anchor="middle" fill="#222">1687</text>
<text x="579.1" y="450.3" font-size="15" text-anchor="middle" fill="#222">1480</text>
<text x="579.1" y="470" font-size="15" text-anchor="middle" fill="#222">1366</text>
<text x="644.6" y="450.3" font-size="15" text-anchor="middle" fill="#222">914</text>
<text x="644.6" y="470" font-size="15" text-anchor="middle" fill="#222">848</text>
<text x="710.1" y="450.3" font-size="15" text-anchor="middle" fill="#222">155</text>
<text x="710.1" y="470" font-size="15" text-anchor="middle" fill="#222">150</text>
<text x="775.6" y="450.3" font-size="15" text-anchor="middle" fill="#222">8</text>
<text x="775.6" y="470" font-size="15" text-anchor="middle" fill="#222">6</text>
<text x="841.1" y="450.3" font-size="15" text-anchor="middle" fill="#222">0</text>
<text x="841.1" y="470" font-size="15" text-anchor="middle" fill="#222">0</text>
</svg>
</body></html>
